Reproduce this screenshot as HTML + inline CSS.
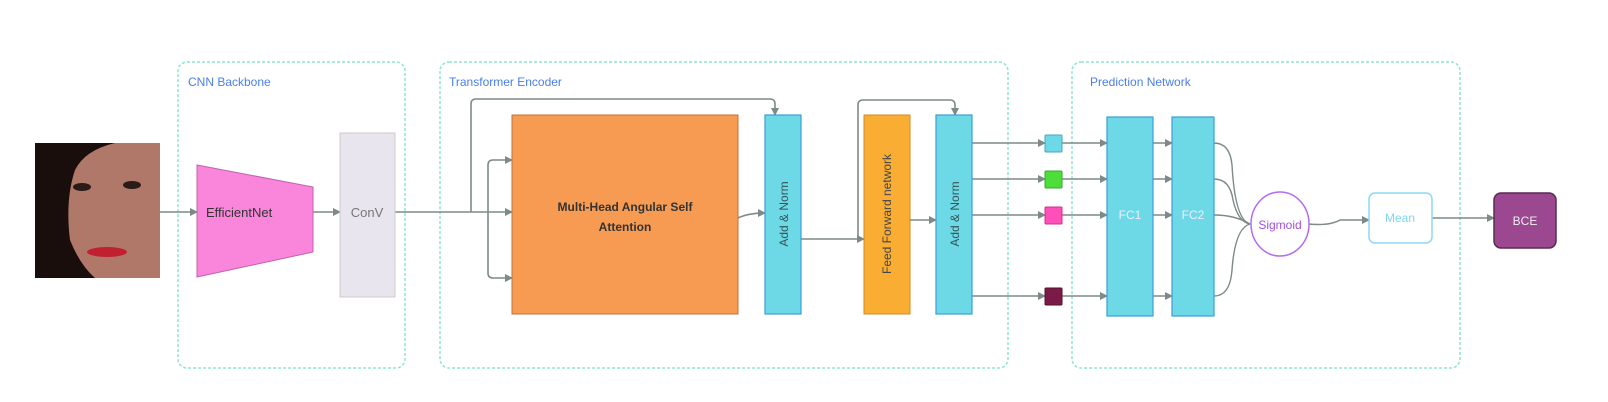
<!DOCTYPE html>
<html><head><style>html,body{margin:0;padding:0;background:#fff}svg{display:block}</style></head><body>
<svg width="1608" height="402" viewBox="0 0 1608 402" xmlns="http://www.w3.org/2000/svg" font-family="Liberation Sans, sans-serif">
<defs><marker id="a" markerWidth="8" markerHeight="8" refX="7" refY="4" orient="auto" markerUnits="userSpaceOnUse"><path d="M0,0 L8,4 L0,8 Z" fill="#7c8a88"/></marker></defs>
<g fill="none" stroke="#8ee6cf" stroke-width="1.5" stroke-dasharray="3,2">
<rect x="178" y="62" width="227" height="306" rx="9"/>
<rect x="440" y="62" width="568" height="306" rx="9"/>
<rect x="1072" y="62" width="388" height="306" rx="9"/>
</g>
<g font-size="12" fill="#4a7ef0">
<text x="188" y="86">CNN Backbone</text>
<text x="449" y="86">Transformer Encoder</text>
<text x="1090" y="86">Prediction Network</text>
</g>
<!-- face -->
<rect x="35" y="143" width="125" height="135" fill="#b07868"/>
<path d="M35,143 H115 Q85,150 75,170 Q65,200 70,240 Q80,265 95,278 H35 Z" fill="#1a0e0c"/>
<ellipse cx="82" cy="187" rx="9" ry="4" fill="#2a1a18"/><ellipse cx="132" cy="185" rx="9" ry="4" fill="#2a1a18"/>
<ellipse cx="107" cy="252" rx="20" ry="5" fill="#c02030"/>
<g stroke="#7c8a88" stroke-width="1.6" fill="none" marker-end="url(#a)">
<path d="M160,212 H197"/>
<path d="M313,212 H340"/>
<path d="M395,212 H512"/>
<path d="M471,212 V104 Q471,99 476,99 H770 Q775,99 775,104 V115"/>
<path d="M488,212 V165 Q488,160 493,160 H512"/>
<path d="M488,212 V273 Q488,278 493,278 H512"/>
<path d="M738,218 Q748,213 765,213"/>
<path d="M801,239 H864"/>
<path d="M858,240 V105 Q858,100 863,100 H950 Q955,100 955,105 V115"/>
<path d="M910,220 H936"/>
<path d="M972,143 H1045"/><path d="M972,179 H1045"/><path d="M972,215 H1045"/><path d="M972,296 H1045"/>
<path d="M1062,143 H1107"/><path d="M1062,179 H1107"/><path d="M1062,215 H1107"/><path d="M1062,296 H1107"/>
<path d="M1153,143 H1172"/><path d="M1153,179 H1172"/><path d="M1153,215 H1172"/><path d="M1153,296 H1172"/>
<path d="M1308,224 Q1330,226 1340,220 H1369"/>
<path d="M1432,218 H1494"/>
</g>
<g stroke="#7c8a88" stroke-width="1.4" fill="none">
<path d="M1214,143 Q1230,143 1232,165 Q1235,220 1250,224"/>
<path d="M1214,179 Q1230,179 1233,200 Q1238,222 1250,224"/>
<path d="M1214,215 Q1235,215 1250,224"/>
<path d="M1214,296 Q1230,296 1232,270 Q1235,228 1250,224"/>
</g>
<polygon points="197,165 313,187 313,252 197,277" fill="#f986da" stroke="#c060b0" stroke-width="1"/>
<text x="206" y="217" font-size="13" fill="#333">EfficientNet</text>
<rect x="340" y="133" width="55" height="164" fill="#e8e5ee" stroke="#ccc" stroke-width="1"/>
<text x="367" y="217" font-size="13" fill="#777" text-anchor="middle">ConV</text>
<rect x="512" y="115" width="226" height="199" fill="#f79b52" stroke="#c0703a" stroke-width="1"/>
<text x="625" y="211" font-size="12" font-weight="bold" fill="#333" text-anchor="middle">Multi-Head Angular Self</text>
<text x="625" y="231" font-size="12" font-weight="bold" fill="#333" text-anchor="middle">Attention</text>
<rect x="765" y="115" width="36" height="199" fill="#6dd8e6" stroke="#3a9ed8" stroke-width="1.2"/>
<text transform="translate(788,214) rotate(-90)" font-size="12" fill="#355" text-anchor="middle">Add &amp; Norm</text>
<rect x="864" y="115" width="46" height="199" fill="#f9ad33" stroke="#d08a20" stroke-width="1"/>
<text transform="translate(891,214) rotate(-90)" font-size="12" fill="#444" text-anchor="middle">Feed Forward network</text>
<rect x="936" y="115" width="36" height="199" fill="#6dd8e6" stroke="#3a9ed8" stroke-width="1.2"/>
<text transform="translate(959,214) rotate(-90)" font-size="12" fill="#355" text-anchor="middle">Add &amp; Norm</text>
<rect x="1045" y="135" width="17" height="17" fill="#6dd8e6" stroke="#4ab" rx="1"/>
<rect x="1045" y="171" width="17" height="17" fill="#4ede3a" stroke="#3a3" rx="1"/>
<rect x="1045" y="207" width="17" height="17" fill="#ff4fb8" stroke="#c38" rx="1"/>
<rect x="1045" y="288" width="17" height="17" fill="#7a1a48" stroke="#512" rx="1"/>
<rect x="1107" y="117" width="46" height="199" fill="#6dd8e6" stroke="#3a9ed8" stroke-width="1.2"/>
<text x="1130" y="219" font-size="12" fill="#eef" text-anchor="middle">FC1</text>
<rect x="1172" y="117" width="42" height="199" fill="#6dd8e6" stroke="#3a9ed8" stroke-width="1.2"/>
<text x="1193" y="219" font-size="12" fill="#eef" text-anchor="middle">FC2</text>
<ellipse cx="1280" cy="224" rx="29" ry="32" fill="#fff" stroke="#b36cf0" stroke-width="1.5"/>
<text x="1280" y="229" font-size="12" fill="#a050e0" text-anchor="middle">Sigmoid</text>
<rect x="1369" y="193" width="63" height="50" rx="6" fill="#fff" stroke="#8cd8f4" stroke-width="1.5"/>
<text x="1400" y="222" font-size="12" fill="#7fd6f0" text-anchor="middle">Mean</text>
<rect x="1494" y="193" width="62" height="55" rx="7" fill="#9b4890" stroke="#5a2a55" stroke-width="1.5"/>
<text x="1525" y="225" font-size="12" fill="#eee" text-anchor="middle">BCE</text>
</svg>
</body></html>
